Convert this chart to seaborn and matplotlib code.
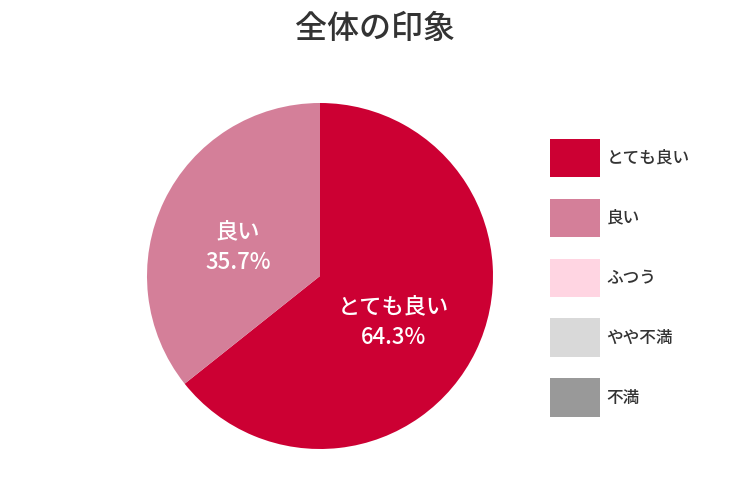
import math
import matplotlib
matplotlib.use("Agg")
import matplotlib.pyplot as plt
from matplotlib.patches import Patch
import seaborn as sns

# data
categories = ["とても良い", "良い", "ふつう", "やや不満", "不満"]
shares = [64.3, 35.7, 0, 0, 0]
colors = ["#CC0033", "#D47F99", "#FFD5E2", "#D9D9D9", "#999999"]
title = "全体の印象"

sns.set_theme(style="white")
plt.rcParams["font.family"] = ["Noto Sans CJK JP", "DejaVu Sans"]

fig = plt.figure(figsize=(7.5, 5), dpi=100)
fig.patch.set_facecolor("white")

# pie axes placed in pixels: center (320, 276 from top), radius 173
r = 173
cx, cy = 320, 500 - 276
ax = fig.add_axes([(cx - r) / 750, (cy - r) / 500, 2 * r / 750, 2 * r / 500])
ax.set_aspect("equal")

vals = [v for v in shares if v > 0]
cols = [c for v, c in zip(shares, colors) if v > 0]
names = [n for v, n in zip(shares, categories) if v > 0]

wedges, _ = ax.pie(vals, colors=cols, startangle=90, counterclock=False,
                   radius=1, wedgeprops=dict(linewidth=0))
ax.set_xlim(-1, 1)
ax.set_ylim(-1, 1)
ax.axis("off")

# wedge labels
theta = 90
for v, n in zip(vals, names):
    mid = theta - v * 3.6 / 2
    theta -= v * 3.6
    d = 0.5
    x = d * math.cos(math.radians(mid)) - 0.025
    y = d * math.sin(math.radians(mid)) - 0.05
    ax.text(x, y, f"{n}\n{v:.1f}%", ha="center", va="center", color="white",
            fontsize=16, linespacing=1.4, fontweight="medium")

fig.text(0.5, 1 - 29 / 500, title, ha="center", va="center", fontsize=23,
         color="#333333", fontweight="medium")

handles = [Patch(facecolor=c, edgecolor="none") for c in colors]
leg = fig.legend(handles, categories, loc="upper left",
                 bbox_to_anchor=(543 / 750, 1 - 132 / 500), frameon=False,
                 fontsize=12, handlelength=3.0, handleheight=3.2,
                 labelspacing=1.27, handletextpad=0.4, borderaxespad=0)
for t in leg.get_texts():
    t.set_color("#333333")
    t.set_fontweight("medium")

fig.savefig("out.png", dpi=100)
